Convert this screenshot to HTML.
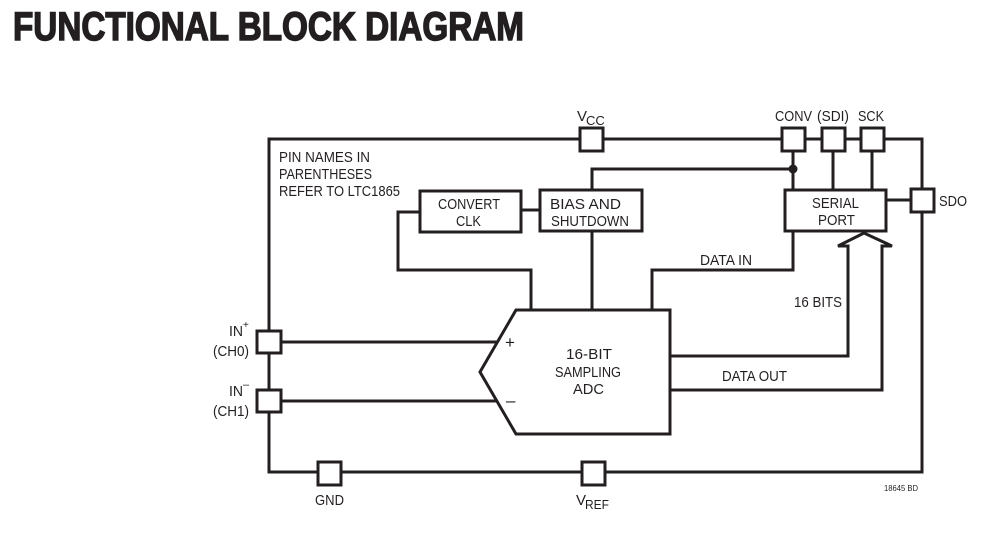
<!DOCTYPE html>
<html><head><meta charset="utf-8"><style>
html,body{margin:0;padding:0;background:#fff;}
svg{display:block;}
text{font-family:"Liberation Sans",sans-serif;fill:#231f20;}
</style></head><body>
<svg width="983" height="538" viewBox="0 0 983 538" xmlns="http://www.w3.org/2000/svg">
<text x="13" y="40" font-size="40" font-weight="bold" textLength="511" lengthAdjust="spacingAndGlyphs" stroke="#231f20" stroke-width="1.5">FUNCTIONAL BLOCK DIAGRAM</text>
<g fill="none" stroke="#231f20" stroke-width="3">
<polyline points="269,330 269,139 922,139 922,472 269,472 269,413"/>
<line x1="269" y1="353" x2="269" y2="390"/>
<rect x="580" y="128" width="23" height="23" fill="#fff"/>
<rect x="782" y="128" width="23" height="23" fill="#fff"/>
<rect x="822" y="128" width="23" height="23" fill="#fff"/>
<rect x="861" y="128" width="23" height="23" fill="#fff"/>
<rect x="911" y="189" width="23" height="23" fill="#fff"/>
<line x1="886" y1="200" x2="911" y2="200"/>
<line x1="793" y1="151" x2="793" y2="190"/>
<line x1="833" y1="151" x2="833" y2="190"/>
<line x1="872" y1="151" x2="872" y2="190"/>
<polyline points="592,190 592,169 793,169"/>
<rect x="420" y="191" width="101" height="41"/>
<rect x="540" y="190" width="102" height="41"/>
<rect x="785" y="190" width="101" height="41"/>
<line x1="521" y1="210" x2="540" y2="210"/>
<polyline points="420,212 398,212 398,270 531,270 531,310"/>
<line x1="592" y1="231" x2="592" y2="310"/>
<polyline points="793,231 793,270 652,270 652,310"/>
<polygon points="516,310 670,310 670,434 516,434 480,372"/>
<polyline points="670,356 848,356 848,246 838,246 864,233 892,246 882,246 882,390 670,390"/>
<rect x="257" y="331" width="24" height="22" fill="#fff"/>
<rect x="257" y="390" width="24" height="22" fill="#fff"/>
<line x1="281" y1="342" x2="497" y2="342"/>
<line x1="281" y1="401" x2="497" y2="401"/>
<rect x="318" y="462" width="23" height="23" fill="#fff"/>
<rect x="582" y="462" width="23" height="23" fill="#fff"/>
</g>
<circle cx="793" cy="169" r="4.5" fill="#231f20"/>
<g font-size="15">
<text x="577" y="121">V</text><text x="586" y="125" font-size="13">CC</text>
<text x="775" y="121" textLength="37" lengthAdjust="spacingAndGlyphs">CONV</text>
<text x="817" y="121" textLength="32" lengthAdjust="spacingAndGlyphs">(SDI)</text>
<text x="858" y="121" textLength="26" lengthAdjust="spacingAndGlyphs">SCK</text>
<text x="279" y="162" textLength="91" lengthAdjust="spacingAndGlyphs">PIN NAMES IN</text>
<text x="279" y="179" textLength="93" lengthAdjust="spacingAndGlyphs">PARENTHESES</text>
<text x="279" y="196" textLength="121" lengthAdjust="spacingAndGlyphs">REFER TO LTC1865</text>
<text x="438" y="209" textLength="62" lengthAdjust="spacingAndGlyphs">CONVERT</text>
<text x="456" y="226" textLength="25" lengthAdjust="spacingAndGlyphs">CLK</text>
<text x="550" y="209" textLength="71" lengthAdjust="spacingAndGlyphs">BIAS AND</text>
<text x="551" y="226" textLength="78" lengthAdjust="spacingAndGlyphs">SHUTDOWN</text>
<text x="812" y="208" textLength="47" lengthAdjust="spacingAndGlyphs">SERIAL</text>
<text x="818" y="225" textLength="37" lengthAdjust="spacingAndGlyphs">PORT</text>
<text x="939" y="206" textLength="28" lengthAdjust="spacingAndGlyphs">SDO</text>
<text x="700" y="265" textLength="52" lengthAdjust="spacingAndGlyphs">DATA IN</text>
<text x="794" y="307" textLength="48" lengthAdjust="spacingAndGlyphs">16 BITS</text>
<text x="722" y="381" textLength="65" lengthAdjust="spacingAndGlyphs">DATA OUT</text>
<text x="566" y="359" textLength="46" lengthAdjust="spacingAndGlyphs">16-BIT</text>
<text x="555" y="377" textLength="66" lengthAdjust="spacingAndGlyphs">SAMPLING</text>
<text x="573" y="394" textLength="31" lengthAdjust="spacingAndGlyphs">ADC</text>
<text x="505" y="348" font-size="17">+</text>
<text x="506" y="406" font-size="17">–</text>
<text x="229" y="336" textLength="14" lengthAdjust="spacingAndGlyphs">IN</text><text x="243" y="328" font-size="10">+</text>
<text x="213" y="356" textLength="36" lengthAdjust="spacingAndGlyphs">(CH0)</text>
<text x="229" y="396" textLength="14" lengthAdjust="spacingAndGlyphs">IN</text><text x="243" y="388" font-size="11">–</text>
<text x="213" y="416" textLength="36" lengthAdjust="spacingAndGlyphs">(CH1)</text>
<text x="315" y="505" textLength="29" lengthAdjust="spacingAndGlyphs">GND</text>
<text x="576" y="505">V</text><text x="585" y="509" font-size="13" textLength="24" lengthAdjust="spacingAndGlyphs">REF</text>
<text x="884" y="491" font-size="8" textLength="34" lengthAdjust="spacingAndGlyphs">18645 BD</text>
</g>
</svg>
</body></html>
